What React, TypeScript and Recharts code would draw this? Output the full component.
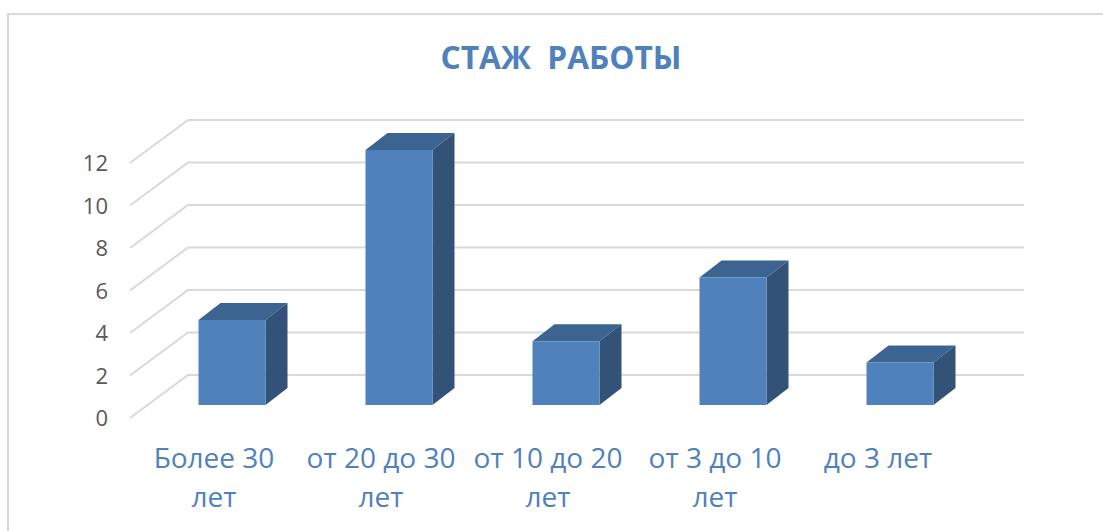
import React from "react";
import { BarChart, Bar, XAxis, YAxis, CartesianGrid } from "recharts";

const categories = ["Более 30 лет", "от 20 до 30 лет", "от 10 до 20 лет", "от 3 до 10 лет", "до 3 лет"];
const values = [4, 12, 3, 6, 2];
const yTicks = [0, 2, 4, 6, 8, 10, 12];
const titleText = "СТАЖ  РАБОТЫ";
const rows = categories.map((name, i) => ({ name, value: values[i] }));

const FONT = "'Open Sans', sans-serif";
const BLUE = "#4F81BD";
const GRID = "#D9D9D9";
const DX = 22;
const DY = 17;

function GridLine(props: any) {
  const { y1 } = props;
  const fy = y1 + 13;
  const by = y1 - 30;
  return <polyline points={`130,${fy} 188,${by} 1024,${by}`} fill="none" stroke={GRID} strokeWidth={2} />;
}

function YTick(props: any) {
  const { y, payload } = props;
  return (
    <text x={108} y={y + 21} textAnchor="end" fontFamily={FONT} fontSize={22} fill="#595959">
      {payload.value}
    </text>
  );
}

function XTick(props: any) {
  const { x, payload } = props;
  const words = String(payload.value).split(" ");
  const wrap = payload.value.length > 8;
  const lines = wrap ? [words.slice(0, -1).join(" "), words[words.length - 1]] : [payload.value];
  const cx = x - (wrap ? 18 : 22);
  return (
    <g>
      {lines.map((l: string, i: number) => (
        <text key={i} x={cx} y={468 + i * 39} textAnchor="middle" fontFamily={FONT} fontSize={28} fill={BLUE}>
          {l}
        </text>
      ))}
    </g>
  );
}

function Box3D(props: any) {
  const { x, y, width, height } = props;
  const r = x + width;
  const b = y + height;
  return (
    <g>
      <polygon points={`${x},${y} ${x + DX},${y - DY} ${r + DX},${y - DY} ${r},${y}`} fill="#3C6491" />
      <polygon points={`${r},${y} ${r + DX},${y - DY} ${r + DX},${b - DY} ${r},${b}`} fill="#325278" />
      <rect x={x} y={y} width={width} height={height} fill={BLUE} />
    </g>
  );
}

export default function App() {
  return (
    <div style={{ position: "absolute", left: 0, top: 0, width: 1103, height: 531, background: "#fff", overflow: "hidden" }}>
      <div style={{ position: "absolute", left: 7, top: 13, width: 1096, height: 518, borderLeft: `2px solid ${GRID}`, borderTop: `2px solid ${GRID}`, boxSizing: "border-box" }} />
      <div style={{ position: "absolute", left: 0, width: 1122, top: 37, textAlign: "center", fontFamily: FONT, fontWeight: 700, fontSize: 31.7, lineHeight: "40px", color: BLUE, whiteSpace: "pre" }}>
        {titleText}
      </div>
      <div style={{ position: "absolute", left: 0, top: 0 }}>
        <BarChart width={1103} height={531} data={rows} margin={{ left: 147.5, right: 119.5, top: 150, bottom: 125 }}>
          <CartesianGrid vertical={false} horizontal={<GridLine />} horizontalValues={yTicks} />
          <XAxis dataKey="name" axisLine={false} tickLine={false} tick={<XTick />} interval={0} height={1} />
          <YAxis domain={[0, 12]} ticks={yTicks} width={1} axisLine={false} tickLine={false} tick={<YTick />} interval={0} />
          <Bar dataKey="value" barSize={67} shape={<Box3D />} isAnimationActive={false} />
        </BarChart>
      </div>
    </div>
  );
}
